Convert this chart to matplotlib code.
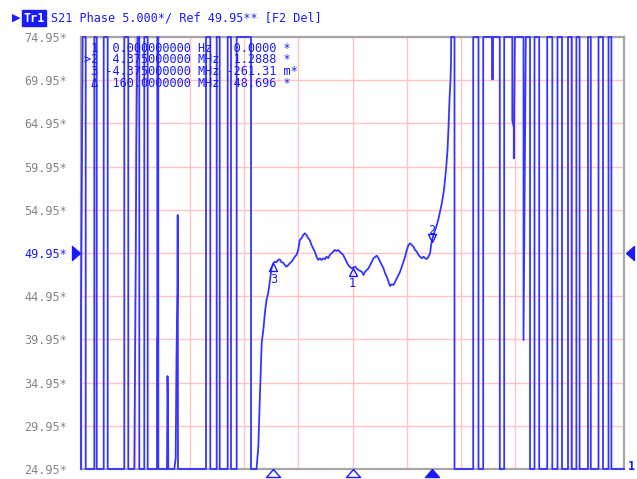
import numpy as np
import matplotlib
matplotlib.use("Agg")
import matplotlib.pyplot as plt
from matplotlib import transforms
from matplotlib.path import Path

# ---- instrument settings ----
start_mhz = 145.0
stop_mhz = 175.0
ref_level = 49.95
per_div = 5.0
n_div = 10
y_min = ref_level - per_div * n_div / 2
y_max = ref_level + per_div * n_div / 2

# ---- trace data (MHz, degrees); off-screen values are shown clipped to the screen edges ----
left_freq = [145.000, 145.000, 145.094, 145.260, 145.260, 145.735, 145.735, 145.867, 145.867,
             146.254, 146.254, 146.475, 146.475, 147.392, 147.392, 147.613, 147.613, 147.945,
             147.956, 148.000, 148.028, 148.055, 148.094, 148.122, 148.221, 148.221, 148.497,
             148.497, 148.685, 148.685, 149.199, 149.199, 149.215, 149.215, 149.271, 149.271,
             149.751, 149.768, 149.779, 149.807, 149.823, 150.155, 150.232, 150.276, 150.331,
             150.343, 150.359, 151.906, 151.906, 152.144, 152.144, 152.497, 152.497, 152.663,
             152.663, 153.105, 153.105, 153.287, 153.287, 153.602, 153.602, 154.392, 154.392]
left_phase = [24.95, 42.77, 74.95, 74.95, 24.95, 24.95, 74.95, 74.95, 24.95,
              24.95, 74.95, 74.95, 24.95, 24.95, 74.95, 74.95, 24.95, 24.95,
              28.08, 41.96, 50.30, 62.00, 70.75, 74.95, 74.95, 24.95, 24.95,
              74.95, 74.95, 24.95, 24.95, 39.88, 40.50, 74.95, 74.95, 24.95,
              24.95, 31.00, 35.71, 32.60, 24.95, 24.95, 26.20, 37.80, 45.80,
              54.35, 24.95, 24.95, 74.95, 74.95, 24.95, 24.95, 74.95, 74.95,
              24.95, 24.95, 74.95, 74.95, 24.95, 24.95, 74.95, 74.95, 24.95]

curve_freq = [154.696, 154.796, 154.890, 154.984, 155.072, 155.166, 155.249, 155.343, 155.431,
              155.525, 155.619, 155.707, 155.801, 155.895, 155.984, 156.077, 156.171, 156.260,
              156.354, 156.448, 156.536, 156.630, 156.724, 156.812, 156.906, 157.000, 157.088,
              157.182, 157.276, 157.365, 157.459, 157.553, 157.641, 157.735, 157.829, 157.917,
              158.011, 158.105, 158.193, 158.287, 158.381, 158.470, 158.564, 158.657, 158.746,
              158.840, 158.934, 159.022, 159.116, 159.210, 159.298, 159.392, 159.486, 159.575,
              159.669, 159.762, 159.851, 159.945, 160.144, 160.332, 160.514, 160.608, 160.696,
              160.790, 160.884, 160.973, 161.067, 161.160, 161.343, 161.437, 161.525, 161.619,
              161.713, 161.801, 161.895, 161.989, 162.078, 162.172, 162.265, 162.354, 162.448,
              162.542, 162.630, 162.724, 162.818, 162.906, 163.000, 163.094, 163.182, 163.276,
              163.370, 163.459, 163.552, 163.646, 163.735, 163.829, 163.923, 164.011, 164.105,
              164.199, 164.287, 164.343, 164.420, 164.531, 164.658, 164.735, 164.917, 165.055,
              165.166, 165.249, 165.304, 165.359, 165.414, 165.442, 165.453]
curve_phase = [24.95, 27.50, 33.75, 39.53, 41.04, 43.12, 44.51, 45.32, 46.63,
               48.18, 48.76, 48.94, 48.87, 49.14, 49.22, 48.87, 48.83, 48.56,
               48.36, 48.56, 48.76, 48.94, 49.22, 49.52, 49.72, 50.30, 51.45,
               51.65, 52.03, 52.23, 52.03, 51.65, 51.45, 50.88, 50.49, 50.10,
               49.52, 49.14, 49.34, 49.14, 49.34, 49.22, 49.52, 49.34, 49.72,
               49.92, 50.10, 50.30, 50.18, 50.30, 50.10, 49.92, 49.72, 49.34,
               48.94, 48.56, 48.36, 48.18, 48.36, 47.98, 47.79, 47.40, 47.79,
               47.98, 48.18, 48.56, 48.94, 49.34, 49.64, 49.34, 48.94, 48.56,
               48.18, 47.60, 47.21, 46.63, 46.13, 46.33, 46.25, 46.63, 47.02,
               47.40, 47.79, 48.36, 48.94, 49.52, 50.30, 50.88, 51.07, 50.88,
               50.68, 50.30, 50.10, 49.72, 49.52, 49.34, 49.52, 49.34, 49.26,
               49.52, 49.92, 50.88, 51.65, 52.42, 53.19, 53.77, 55.51, 57.24,
               59.56, 61.87, 64.42, 67.66, 69.97, 71.94, 74.95]

right_freq = [165.635, 165.635, 166.669, 166.669, 166.961, 166.961, 167.221, 167.221,
              167.707, 167.707, 167.763, 167.763, 168.138, 168.138, 168.381, 168.381,
              168.829, 168.829, 168.912, 168.912, 168.967, 169.448, 169.448, 169.448,
              169.575, 169.807, 169.807, 170.055, 170.055, 170.315, 170.315, 170.757,
              170.757, 171.039, 171.039, 171.326, 171.326, 171.575, 171.575, 171.906,
              171.906, 172.116, 172.116, 172.370, 172.370, 172.547, 172.547, 173.011,
              173.011, 173.166, 173.166, 173.591, 173.591, 173.840, 173.840, 174.144,
              174.144, 174.304, 174.304, 175.000]
right_phase = [74.95, 24.95, 24.95, 74.95, 74.95, 24.95, 24.95, 74.95,
               74.95, 70.05, 70.05, 74.95, 74.95, 24.95, 24.95, 74.95,
               74.95, 65.30, 64.50, 60.90, 74.95, 74.95, 61.90, 39.88,
               74.95, 74.95, 24.95, 24.95, 74.95, 74.95, 24.95, 24.95,
               74.95, 74.95, 24.95, 24.95, 74.95, 74.95, 24.95, 24.95,
               74.95, 74.95, 24.95, 24.95, 74.95, 74.95, 24.95, 24.95,
               74.95, 74.95, 24.95, 24.95, 74.95, 74.95, 24.95, 24.95,
               74.95, 74.95, 24.95, 24.95]

ytick_values = [24.95, 29.95, 34.95, 39.95, 44.95, 49.95, 54.95, 59.95, 64.95, 69.95, 74.95]
ytick_labels = ["24.95*", "29.95*", "34.95*", "39.95*", "44.95*", "49.95*",
                "54.95*", "59.95*", "64.95*", "69.95*", "74.95*"]

marker_ids = ["1", "2", "3"]
marker_freqs = [160.0, 164.375, 155.625]
marker_active = [False, True, False]

table_lines = [
    " 1  0.000000000 Hz   0.0000 *",
    ">2  4.375000000 MHz  1.2888 *",
    " 3 -4.375000000 MHz -261.31 m*",
    " Δ  160.0000000 MHz  48.696 *",
]
title_text = "S21 Phase 5.000*/ Ref 49.95** [F2 Del]"
trace_name = "Tr1"

# ---- styling ----
W, H = 637, 479
BLUE = "#1a1aff"
TRACE = "#3535ff"
GRID = "#ffc4c4"
FRAME = "#a6a6a6"
LABEL = "#858585"
MONO = "DejaVu Sans Mono"
FS = 8.5

fig = plt.figure(figsize=(W / 100, H / 100), dpi=100, facecolor="white")
ax = fig.add_axes([81 / W, 10 / H, 543 / W, 432 / H])
ax.set_xlim(start_mhz, stop_mhz)
ax.set_ylim(y_min, y_max)
ax.set_xticks(np.linspace(start_mhz, stop_mhz, n_div + 1))
ax.set_xticklabels([])
ax.set_yticks(ytick_values)
ax.set_yticklabels(ytick_labels, family=MONO, fontsize=FS)
ax.tick_params(axis="both", length=0)
ax.tick_params(axis="y", pad=10)
for lbl, v in zip(ax.get_yticklabels(), ytick_values):
    lbl.set_color(BLUE if abs(v - ref_level) < 1e-6 else LABEL)
ax.grid(True, color=GRID, lw=1.0)
ax.set_axisbelow(True)
for s in ax.spines.values():
    s.set_color(FRAME)
    s.set_linewidth(1.6)

freq = np.concatenate([left_freq, curve_freq, right_freq])
phase = np.concatenate([left_phase, curve_phase, right_phase])
ax.plot(freq, phase, color=TRACE, lw=1.3, clip_on=False, zorder=5)

# reference level arrows
def px_off(dx, dy):
    return transforms.offset_copy(ax.transData, fig=fig, x=dx, y=dy, units="dots")

left_arrow = Path([(0, 0), (-1, 0.875), (-1, -0.875), (0, 0)])
right_arrow = Path([(0, 0), (1, 0.875), (1, -0.875), (0, 0)])
ax.plot([start_mhz], [ref_level], marker=left_arrow, ms=11.5, color=BLUE, mec=BLUE,
        clip_on=False, transform=px_off(-1.5, 0), zorder=6)
ax.plot([stop_mhz], [ref_level], marker=right_arrow, ms=11.5, color=BLUE, mec=BLUE,
        clip_on=False, transform=px_off(1.5, 0), zorder=6)

# markers on the trace and below the axis
up_tri = Path([(0, 0), (-0.5, -1), (0.5, -1), (0, 0)])
down_tri = Path([(0, 0), (-0.5, 1), (0.5, 1), (0, 0)])
bottom_tri = Path([(0, 0), (-0.875, -1), (0.875, -1), (0, 0)])
for mid, mf, act in zip(marker_ids, marker_freqs, marker_active):
    mv = np.interp(mf, curve_freq, curve_phase)
    if act:
        ax.plot([mf], [mv], marker=down_tri, ms=11.5, mfc="none", mec=BLUE, mew=1.0,
                clip_on=False, zorder=7)
        ax.annotate(mid, (mf, mv), xytext=(0, 8.5), textcoords="offset points",
                    ha="center", va="center", color=BLUE, family=MONO, fontsize=FS, zorder=7)
    else:
        ax.plot([mf], [mv], marker=up_tri, ms=11.5, mfc="none", mec=BLUE, mew=1.0,
                clip_on=False, zorder=7)
        ax.annotate(mid, (mf, mv), xytext=(0, -11.5), textcoords="offset points",
                    ha="center", va="center", color=BLUE, family=MONO, fontsize=FS, zorder=7)
    ax.plot([mf], [y_min], marker=bottom_tri, ms=11.5,
            mfc=BLUE if act else "white", mec=BLUE, mew=1.0, clip_on=False, zorder=7)

# trace number at the end of the trace
ax.annotate("1", (stop_mhz, y_min), xytext=(2.5, 1.5), textcoords="offset points",
            ha="left", va="center", color=BLUE, family=MONO, fontsize=FS,
            fontweight="bold", annotation_clip=False)

# marker readout table
for i, line in enumerate(table_lines):
    fig.text(84.2 / W, 1 - (48 + 11.9 * i) / H, line, family=MONO, fontsize=8.6,
             color=BLUE, ha="left", va="center", zorder=8)

# title row
ty = 1 - 18 / H
fig.text(12 / W, ty, "\u25B6", family="DejaVu Sans", fontsize=8, color=BLUE,
         ha="left", va="center")
fig.text(23 / W, ty, trace_name, family=MONO, fontsize=FS, color="white", fontweight="bold",
         ha="left", va="center",
         bbox=dict(boxstyle="square,pad=0.12", fc=BLUE, ec=BLUE))
fig.text(50.5 / W, ty, title_text, family=MONO, fontsize=FS, color=BLUE,
         ha="left", va="center")

fig.savefig("out.png", dpi=100, facecolor="white")
